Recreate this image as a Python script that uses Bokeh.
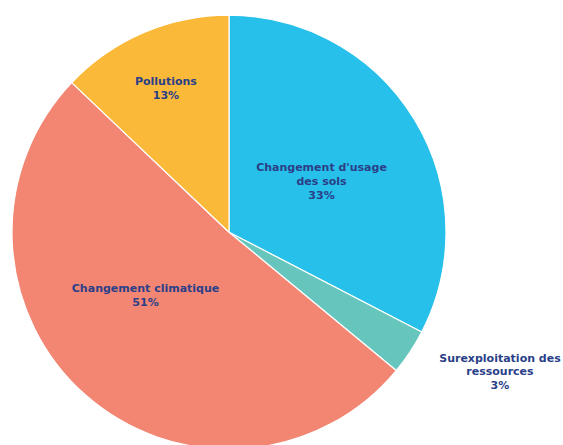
import math
from bokeh.plotting import figure
from bokeh.models import Range1d, ColumnDataSource
from bokeh.core.properties import value
from bokeh.embed import file_html
from bokeh.resources import INLINE

# Data (clockwise from 12 o'clock)
categories = ["Changement d'usage\ndes sols", "Surexploitation des\nressources",
              "Changement climatique", "Pollutions"]
shares = [32.6, 3.4, 51.1, 12.9]
colors = ["#26C0EA", "#66C6BD", "#F28673", "#FBB93A"]

# label placement (style): radial factor and angular offset (deg) from slice middle
label_rfac = [0.486, 1.405, 0.483, 0.723]
label_doff = [2.6, -6.2, 11.2, -0.5]

W, H = 563, 445
CX, CY = 228.5, 213.3  # centre of the pie within the frame (pixels from left / from bottom)
R = 217

total = sum(shares)
starts, ends, lx, ly, texts = [], [], [], [], []
cum = 0.0
for cat, s, rf, off in zip(categories, shares, label_rfac, label_doff):
    a0 = cum / total * 2 * math.pi
    cum += s
    a1 = cum / total * 2 * math.pi
    starts.append(math.pi / 2 - a0)
    ends.append(math.pi / 2 - a1)
    mid = (a0 + a1) / 2 + math.radians(off)
    lx.append(R * rf * math.sin(mid))
    ly.append(R * rf * math.cos(mid))
    texts.append(f"{cat}\n{round(s)}%")

src = ColumnDataSource(dict(start=starts, end=ends, color=colors))
lsrc = ColumnDataSource(dict(x=lx, y=ly, text=texts))

p = figure(width=W, height=H, output_backend="svg", toolbar_location=None,
           x_range=Range1d(-CX, W - CX), y_range=Range1d(-CY, H - CY),
           x_axis_location=None, y_axis_location=None, min_border=0)
p.grid.visible = False
p.outline_line_color = None
p.background_fill_color = "white"
p.border_fill_color = "white"

p.wedge(x=0, y=0, radius=R, start_angle="start", end_angle="end", direction="clock",
        fill_color="color", line_color="white", line_width=1.2, source=src)

p.text(x="x", y="y", text="text", source=lsrc, text_align="center", text_baseline="middle",
       text_font=value("DejaVu Sans"), text_font_style="bold", text_font_size="11px",
       text_color="#2A3F88", text_line_height=1.05)

open("out.html", "w").write(file_html(p, INLINE))
